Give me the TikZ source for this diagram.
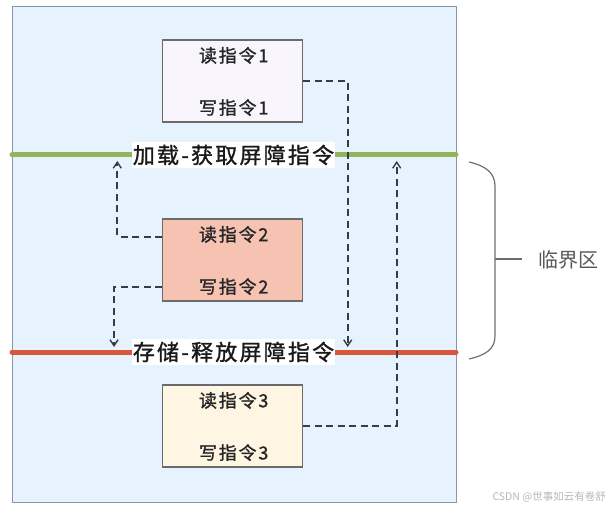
\documentclass[tikz,border=0pt]{standalone}
\usepackage{fontspec}
\newfontfamily\cjk{Noto Sans CJK SC}
\newfontfamily\cjkwide[LetterSpace=10,FakeBold=1.2]{Noto Sans CJK SC}
\usetikzlibrary{arrows.meta,calc}

\definecolor{framefill}{HTML}{E6F2FD}
\definecolor{framedraw}{HTML}{8A96A3}
\definecolor{boxdraw}{HTML}{6B6B6B}
\definecolor{fillA}{HTML}{F8F6FC}
\definecolor{fillB}{HTML}{F6C3B3}
\definecolor{fillC}{HTML}{FEF5E3}
\definecolor{acqgreen}{HTML}{93B55A}
\definecolor{relred}{HTML}{D9573A}
\definecolor{linkgray}{HTML}{353D46}
\definecolor{bracegray}{HTML}{6E6E6E}

\tikzset{
  instrbox/.style={draw=boxdraw, line width=1.2pt, minimum width=140pt, minimum height=82pt, inner sep=0pt},
  instrtext/.style={font=\cjkwide\fontsize{18}{20}\selectfont, text=black!85, inner sep=0pt},
  bar/.style={line width=5pt, line cap=round},
  barlabel/.style={fill=white, font=\cjkwide\fontsize{22}{24}\selectfont, text=black!90, inner xsep=1pt, inner ysep=3pt},
  link/.style={draw=linkgray, line width=1.7pt, dash pattern=on 7pt off 4.5pt,
    -{Straight Barb[length=6pt,width=8pt,line width=1.4pt]}},
  brace/.style={draw=bracegray, line width=1.2pt},
}

\begin{document}
\begin{tikzpicture}[x=1pt,y=-1pt]
  \useasboundingbox (0,0) rectangle (613,513);

  % outer frame
  \node (frame) [draw=framedraw, fill=framefill, line width=1.4pt, anchor=north west,
    minimum width=444pt, minimum height=496pt, inner sep=0pt] at (12,6) {};

  % instruction boxes
  \node (box1) [instrbox, fill=fillA] at (232.7,81) {};
  \node (box2) [instrbox, fill=fillB] at (232.7,260) {};
  \node (box3) [instrbox, fill=fillC] at (232.7,426) {};

  \node (r1) [instrtext] at ($(box1.north)+(1,16)$) {读指令1};
  \node (w1) [instrtext] at ($(box1.south)+(1,-15)$) {写指令1};
  \node (r2) [instrtext] at ($(box2.north)+(1,16)$) {读指令2};
  \node (w2) [instrtext] at ($(box2.south)+(1,-15)$) {写指令2};
  \node (r3) [instrtext] at ($(box3.north)+(1,16)$) {读指令3};
  \node (w3) [instrtext] at ($(box3.south)+(1,-15)$) {写指令3};

  % barrier lines
  \coordinate (gL) at (12,155);
  \coordinate (gR) at (456,155);
  \coordinate (rL) at (12,352);
  \coordinate (rR) at (456,352);
  \draw[bar, acqgreen] (gL) -- (gR);
  \draw[bar, relred] (rL) -- (rR);
  \node (acq) [barlabel] at (233.5,155) {加载-获取屏障指令};
  \node (rel) [barlabel] at (233.5,352) {存储-释放屏障指令};

  % ordering connectors
  \coordinate (e1) at (box1.east);
  \coordinate (t1) at (347.7,347);
  \draw[link] (e1) -| (t1);

  \coordinate (e2a) at ($(box2.west)+(0,-23.3)$);
  \coordinate (t2a) at (117.3,161);
  \draw[link] (e2a) -| (t2a);

  \coordinate (e2b) at ($(box2.west)+(0,26.7)$);
  \coordinate (t2b) at (114,347);
  \draw[link] (e2b) -| (t2b);

  \coordinate (e3) at (box3.east);
  \coordinate (t3) at (396.7,161);
  \draw[link] (e3) -| (t3);

  % brace marking the critical section
  \draw[brace] (469,162) .. controls (486,166) and (495,173) .. (495,186)
    -- (495,336) .. controls (495,349) and (486,355) .. (469,359);
  \coordinate (bm) at (495,259);
  \node (crit) [font=\cjk\fontsize{20}{22}\selectfont, text=black!65, inner sep=0pt, anchor=west] at (538,260) {临界区};
  \draw[brace] (bm) -- ++(27,0);

  % watermark
  \node (wm) [font=\cjk\fontsize{10.5}{12}\selectfont, text=black!28, inner sep=0pt, anchor=east] at (606,497) {CSDN @世事如云有卷舒};
\end{tikzpicture}
\end{document}
